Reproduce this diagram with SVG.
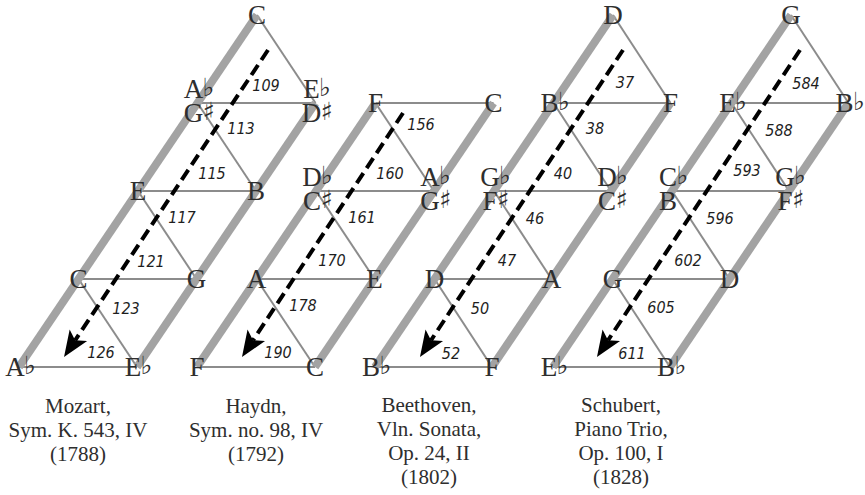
<svg xmlns="http://www.w3.org/2000/svg" width="865" height="495" viewBox="0 0 865 495">
  <style>
    .thin { stroke: #8c8c8c; stroke-width: 2; fill: none; }
    .thick { stroke: #a3a3a3; stroke-width: 8; fill: none; }
    .route { stroke: #000; stroke-width: 4; stroke-dasharray: 12 6; fill: none; marker-end: url(#head); }
    .n { font-family: "Liberation Serif", serif; font-size: 27px; fill: #2e2e2e; text-anchor: middle; }
    .acc { font-family: "DejaVu Sans", sans-serif; font-size: 25px; fill: #2e2e2e; }
    .num { font-family: "Liberation Sans Narrow", "DejaVu Sans Condensed", sans-serif; font-style: italic; font-size: 16px; fill: #1e1e1e; text-anchor: middle; }
    .cap { font-family: "Liberation Serif", serif; font-size: 21px; fill: #2e2e2e; text-anchor: middle; }
  </style>
  <defs>
    <marker id="head" viewBox="0 0 27 24" refX="6" refY="12" markerWidth="27" markerHeight="24" markerUnits="userSpaceOnUse" orient="auto">
      <path d="M0,1.5 L26,12 L0,22.5 L6,12 Z" fill="#000"/>
    </marker>
  </defs>

  <!-- lattice edges and trajectories -->
  <g id="connectors">
    <!-- Mozart -->
    <g id="mozart-edges">
      <line class="thin" x1="19" y1="367" x2="137" y2="367"/>
      <line class="thin" x1="78.5" y1="279" x2="196.5" y2="279"/>
      <line class="thin" x1="138" y1="191" x2="256" y2="191"/>
      <line class="thin" x1="197.5" y1="103" x2="315.5" y2="103"/>
      <line class="thin" x1="78.5" y1="279" x2="137" y2="367"/>
      <line class="thin" x1="138" y1="191" x2="196.5" y2="279"/>
      <line class="thin" x1="197.5" y1="103" x2="256" y2="191"/>
      <line class="thin" x1="257" y1="15" x2="315.5" y2="103"/>
      <line class="thick" x1="19" y1="367" x2="257" y2="15"/>
      <line class="thick" x1="137" y1="367" x2="315.5" y2="103"/>
      <line class="route" x1="268" y1="50" x2="75.1" y2="340.3"/>
    </g>
    <!-- Haydn -->
    <g id="haydn-edges">
      <line class="thin" x1="197" y1="367" x2="315" y2="367"/>
      <line class="thin" x1="256.5" y1="279" x2="374.5" y2="279"/>
      <line class="thin" x1="316" y1="191" x2="434" y2="191"/>
      <line class="thin" x1="375.5" y1="103" x2="493.5" y2="103"/>
      <line class="thin" x1="256.5" y1="279" x2="315" y2="367"/>
      <line class="thin" x1="316" y1="191" x2="374.5" y2="279"/>
      <line class="thin" x1="375.5" y1="103" x2="434" y2="191"/>
      <line class="thick" x1="197" y1="367" x2="375.5" y2="103"/>
      <line class="thick" x1="315" y1="367" x2="493.5" y2="103"/>
      <line class="route" x1="403" y1="113" x2="253" y2="340.3"/>
    </g>
    <!-- Beethoven -->
    <g id="beethoven-edges">
      <line class="thin" x1="375" y1="367" x2="492" y2="367"/>
      <line class="thin" x1="434.5" y1="279" x2="551.5" y2="279"/>
      <line class="thin" x1="494" y1="191" x2="611" y2="191"/>
      <line class="thin" x1="553.5" y1="103" x2="670.5" y2="103"/>
      <line class="thin" x1="434.5" y1="279" x2="492" y2="367"/>
      <line class="thin" x1="494" y1="191" x2="551.5" y2="279"/>
      <line class="thin" x1="553.5" y1="103" x2="611" y2="191"/>
      <line class="thin" x1="613" y1="15" x2="670.5" y2="103"/>
      <line class="thick" x1="375" y1="367" x2="613" y2="15"/>
      <line class="thick" x1="492" y1="367" x2="670.5" y2="103"/>
      <line class="route" x1="623" y1="50" x2="431" y2="340.3"/>
    </g>
    <!-- Schubert -->
    <g id="schubert-edges">
      <line class="thin" x1="553" y1="367" x2="670" y2="367"/>
      <line class="thin" x1="612.5" y1="279" x2="729.5" y2="279"/>
      <line class="thin" x1="672" y1="191" x2="789" y2="191"/>
      <line class="thin" x1="731.5" y1="103" x2="848.5" y2="103"/>
      <line class="thin" x1="612.5" y1="279" x2="670" y2="367"/>
      <line class="thin" x1="672" y1="191" x2="729.5" y2="279"/>
      <line class="thin" x1="731.5" y1="103" x2="789" y2="191"/>
      <line class="thin" x1="791" y1="15" x2="848.5" y2="103"/>
      <line class="thick" x1="553" y1="367" x2="791" y2="15"/>
      <line class="thick" x1="670" y1="367" x2="848.5" y2="103"/>
      <line class="route" x1="800" y1="50" x2="608" y2="340.3"/>
    </g>
  </g>

  <!-- Mozart nodes -->
  <g id="mz-Ab"><text class="n" x="15" y="376">A</text><text class="acc" x="24" y="374">♭</text></g>
  <g id="mz-Eb"><text class="n" x="133" y="376">E</text><text class="acc" x="140.5" y="374">♭</text></g>
  <g id="mz-C1"><text class="n" x="78.5" y="288">C</text></g>
  <g id="mz-G"><text class="n" x="196.5" y="288">G</text></g>
  <g id="mz-E"><text class="n" x="138" y="200">E</text></g>
  <g id="mz-B"><text class="n" x="256" y="200">B</text></g>
  <g id="mz-Ab-Gs"><text class="n" x="193.5" y="98">A</text><text class="acc" x="202.5" y="96">♭</text><text class="n" x="193.5" y="122">G</text><text class="acc" x="202.5" y="120">♯</text></g>
  <g id="mz-Eb-Ds"><text class="n" x="311.5" y="98">E</text><text class="acc" x="319" y="96">♭</text><text class="n" x="311.5" y="122">D</text><text class="acc" x="320.5" y="120">♯</text></g>
  <g id="mz-C2"><text class="n" x="257" y="24">C</text></g>

  <!-- Haydn nodes -->
  <g id="hy-F1"><text class="n" x="197" y="376">F</text></g>
  <g id="hy-C1"><text class="n" x="315" y="376">C</text></g>
  <g id="hy-A"><text class="n" x="256.5" y="288">A</text></g>
  <g id="hy-E"><text class="n" x="374.5" y="288">E</text></g>
  <g id="hy-Db-Cs"><text class="n" x="312" y="186">D</text><text class="acc" x="321" y="184">♭</text><text class="n" x="312" y="210">C</text><text class="acc" x="320.5" y="208">♯</text></g>
  <g id="hy-Ab-Gs"><text class="n" x="430" y="186">A</text><text class="acc" x="439" y="184">♭</text><text class="n" x="430" y="210">G</text><text class="acc" x="439" y="208">♯</text></g>
  <g id="hy-F2"><text class="n" x="375.5" y="112">F</text></g>
  <g id="hy-C2"><text class="n" x="493.5" y="112">C</text></g>

  <!-- Beethoven nodes -->
  <g id="bt-Bb1"><text class="n" x="371" y="376">B</text><text class="acc" x="379.5" y="374">♭</text></g>
  <g id="bt-F1"><text class="n" x="492" y="376">F</text></g>
  <g id="bt-D1"><text class="n" x="434.5" y="288">D</text></g>
  <g id="bt-A"><text class="n" x="551.5" y="288">A</text></g>
  <g id="bt-Gb-Fs"><text class="n" x="490" y="186">G</text><text class="acc" x="499" y="184">♭</text><text class="n" x="490" y="210">F</text><text class="acc" x="497" y="208">♯</text></g>
  <g id="bt-Db-Cs"><text class="n" x="607" y="186">D</text><text class="acc" x="616" y="184">♭</text><text class="n" x="607" y="210">C</text><text class="acc" x="615.5" y="208">♯</text></g>
  <g id="bt-Bb2"><text class="n" x="549.5" y="112">B</text><text class="acc" x="558" y="110">♭</text></g>
  <g id="bt-F2"><text class="n" x="670.5" y="112">F</text></g>
  <g id="bt-D2"><text class="n" x="613" y="24">D</text></g>

  <!-- Schubert nodes -->
  <g id="sc-Eb1"><text class="n" x="549" y="376">E</text><text class="acc" x="556.5" y="374">♭</text></g>
  <g id="sc-Bb1"><text class="n" x="666" y="376">B</text><text class="acc" x="674.5" y="374">♭</text></g>
  <g id="sc-G1"><text class="n" x="612.5" y="288">G</text></g>
  <g id="sc-D"><text class="n" x="729.5" y="288">D</text></g>
  <g id="sc-Cb-B"><text class="n" x="668" y="186">C</text><text class="acc" x="676.5" y="184">♭</text><text class="n" x="668" y="210">B</text></g>
  <g id="sc-Gb-Fs"><text class="n" x="785" y="186">G</text><text class="acc" x="794" y="184">♭</text><text class="n" x="785" y="210">F</text><text class="acc" x="792" y="208">♯</text></g>
  <g id="sc-Eb2"><text class="n" x="727.5" y="112">E</text><text class="acc" x="735" y="110">♭</text></g>
  <g id="sc-Bb2"><text class="n" x="844.5" y="112">B</text><text class="acc" x="853" y="110">♭</text></g>
  <g id="sc-G2"><text class="n" x="791" y="24">G</text></g>

  <!-- measure numbers along each trajectory -->
  <g id="measures">
    <text class="num" x="266" y="91">109</text>
    <text class="num" x="241" y="134">113</text>
    <text class="num" x="212" y="179">115</text>
    <text class="num" x="182" y="223">117</text>
    <text class="num" x="151" y="267">121</text>
    <text class="num" x="126" y="314">123</text>
    <text class="num" x="101" y="358">126</text>

    <text class="num" x="421" y="130">156</text>
    <text class="num" x="390" y="179">160</text>
    <text class="num" x="362" y="223">161</text>
    <text class="num" x="332" y="266">170</text>
    <text class="num" x="303" y="311">178</text>
    <text class="num" x="278" y="358">190</text>

    <text class="num" x="625" y="88">37</text>
    <text class="num" x="595" y="134">38</text>
    <text class="num" x="563" y="179">40</text>
    <text class="num" x="535" y="224">46</text>
    <text class="num" x="507" y="266">47</text>
    <text class="num" x="480" y="314">50</text>
    <text class="num" x="451" y="359">52</text>

    <text class="num" x="806" y="89">584</text>
    <text class="num" x="779" y="136">588</text>
    <text class="num" x="747" y="176">593</text>
    <text class="num" x="720" y="224">596</text>
    <text class="num" x="688" y="266">602</text>
    <text class="num" x="661" y="313">605</text>
    <text class="num" x="632" y="359">611</text>
  </g>

  <!-- captions -->
  <g id="captions">
    <text class="cap" x="78" y="413">Mozart,</text>
    <text class="cap" x="78" y="437">Sym. K. 543, IV</text>
    <text class="cap" x="78" y="461">(1788)</text>

    <text class="cap" x="256" y="413">Haydn,</text>
    <text class="cap" x="256" y="437">Sym. no. 98, IV</text>
    <text class="cap" x="256" y="461">(1792)</text>

    <text class="cap" x="429" y="412">Beethoven,</text>
    <text class="cap" x="429" y="436">Vln. Sonata,</text>
    <text class="cap" x="429" y="460">Op. 24, II</text>
    <text class="cap" x="429" y="484">(1802)</text>

    <text class="cap" x="621" y="412">Schubert,</text>
    <text class="cap" x="621" y="436">Piano Trio,</text>
    <text class="cap" x="621" y="460">Op. 100, I</text>
    <text class="cap" x="621" y="484">(1828)</text>
  </g>
</svg>
